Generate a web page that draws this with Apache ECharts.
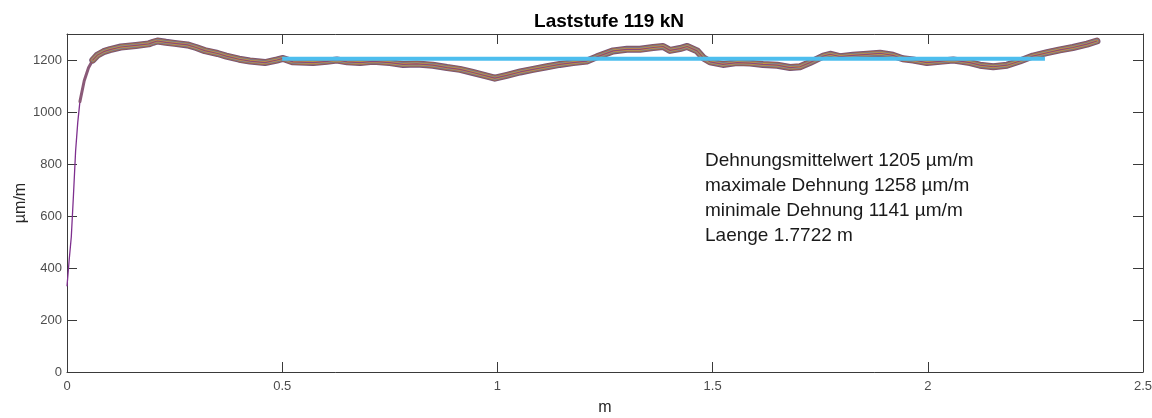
<!DOCTYPE html>
<html>
<head>
<meta charset="utf-8">
<script src="https://cdn.jsdelivr.net/npm/echarts@6/dist/echarts.min.js"></script>
<style>html,body{margin:0;padding:0;background:#fff}#c{width:1152px;height:418px}</style>
</head>
<body>
<div id="c"></div>
<script>
// Data
const positions = [0, 0.005, 0.01, 0.015, 0.02, 0.025, 0.03, 0.04, 0.05, 0.06, 0.07, 0.085, 0.1, 0.125, 0.16, 0.19, 0.2, 0.21, 0.23, 0.25, 0.28, 0.3, 0.32, 0.35, 0.37, 0.4, 0.425, 0.46, 0.488, 0.502, 0.525, 0.572, 0.604, 0.627, 0.651, 0.681, 0.711, 0.75, 0.781, 0.813, 0.85, 0.883, 0.913, 0.943, 0.976, 0.994, 1.022, 1.053, 1.083, 1.115, 1.145, 1.176, 1.208, 1.231, 1.269, 1.301, 1.331, 1.362, 1.385, 1.401, 1.424, 1.441, 1.464, 1.478, 1.494, 1.524, 1.557, 1.587, 1.617, 1.650, 1.680, 1.703, 1.726, 1.757, 1.773, 1.796, 1.826, 1.859, 1.889, 1.919, 1.942, 1.966, 1.998, 2.028, 2.059, 2.075, 2.098, 2.121, 2.152, 2.184, 2.214, 2.244, 2.277, 2.307, 2.337, 2.370, 2.393];
const strain = [330, 430, 520, 680, 850, 960, 1040, 1120, 1170, 1200, 1218, 1232, 1240, 1250, 1256, 1262, 1268, 1273, 1268, 1264, 1258, 1248, 1236, 1225, 1215, 1203, 1196, 1190, 1200, 1206, 1193, 1190, 1195, 1200, 1193, 1190, 1195, 1190, 1183, 1185, 1180, 1171, 1164, 1152, 1138, 1130, 1141, 1154, 1164, 1174, 1183, 1190, 1196, 1212, 1235, 1241, 1241, 1248, 1252, 1237, 1244, 1252, 1235, 1209, 1193, 1183, 1190, 1188, 1183, 1180, 1171, 1174, 1190, 1215, 1222, 1213, 1218, 1222, 1226, 1218, 1205, 1200, 1190, 1195, 1200, 1196, 1190, 1180, 1174, 1180, 1196, 1215, 1228, 1239, 1248, 1261, 1273];
const meanX = [0.5, 2.2722];
const meanY = [1205, 1205];
const xTicks = [0, 0.5, 1, 1.5, 2, 2.5];
const yTicks = [0, 200, 400, 600, 800, 1000, 1200];
const titleText = 'Laststufe 119 kN';
const xName = 'm';
const yName = 'µm/m';
const notes = ['Dehnungsmittelwert 1205 µm/m', 'maximale Dehnung 1258 µm/m', 'minimale Dehnung 1141 µm/m', 'Laenge 1.7722 m'];

const pts = positions.map((x, i) => [x, strain[i]]);
const midPts = pts.slice(positions.indexOf(0.03));
const bandPts = pts.slice(positions.indexOf(0.06));
const meanPts = meanX.map((x, i) => [x, meanY[i]]);

const FONT = 'Liberation Sans, Arial, sans-serif';
const axCol = '#3a3a3a';
const lblCol = '#4d4d4d';

const bandLayers = [
  {w: 7, c: '#75557a'},
  {w: 5.4, c: '#a9673f'},
  {w: 4, c: '#6f7ea0'},
  {w: 2.6, c: '#c89a3c'},
  {w: 1.2, c: '#8a4a7a'}
];

const series = [{
  type: 'line', data: pts, showSymbol: false, symbol: 'none',
  lineStyle: {color: '#7E2F8E', width: 1.3}, z: 2
}, {
  type: 'line', data: midPts, showSymbol: false, symbol: 'none',
  lineStyle: {color: '#8a5a78', width: 3, cap: 'round'}, z: 2
}];
bandLayers.forEach((l, i) => series.push({
  type: 'line', data: bandPts, showSymbol: false, symbol: 'none',
  lineStyle: {color: l.c, width: l.w, cap: 'round', join: 'round'}, z: 3 + i
}));
series.push({
  type: 'line', data: meanPts, showSymbol: false, symbol: 'none',
  lineStyle: {color: '#4DBEEE', width: 4}, z: 20
});

const chart = echarts.init(document.getElementById('c'), null, {renderer: 'canvas'});
const axisCommon = {
  axisLine: {show: true, onZero: false, lineStyle: {color: axCol, width: 1}},
  axisTick: {show: true, inside: true, length: 10, lineStyle: {color: axCol}},
  splitLine: {show: false}
};
chart.setOption({
  animation: false,
  backgroundColor: '#fff',
  title: {
    text: titleText, left: 604, top: 7, textAlign: 'center',
    textStyle: {fontFamily: FONT, fontWeight: 'bold', fontSize: 19, color: '#000'}
  },
  grid: {left: 67, right: 9, top: 34, bottom: 46, containLabel: false, outerBoundsMode: 'none'},
  xAxis: [
    Object.assign({}, axisCommon, {
      type: 'value', min: 0, max: 2.5, interval: 0.5, position: 'bottom',
      name: xName, nameLocation: 'middle', nameGap: 28, nameMoveOverlap: false,
      nameTextStyle: {fontFamily: FONT, fontSize: 16, color: '#262626'},
      axisLabel: {fontFamily: FONT, fontSize: 13, color: lblCol, margin: 8,
        formatter: v => (xTicks.indexOf(v) >= 0 ? String(v) : '')}
    }),
    Object.assign({}, axisCommon, {
      type: 'value', min: 0, max: 2.5, interval: 0.5, position: 'top',
      axisLabel: {show: false}
    })
  ],
  yAxis: [
    Object.assign({}, axisCommon, {
      type: 'value', min: 0, max: 1300, interval: 200, position: 'left',
      name: yName, nameLocation: 'middle', nameGap: 38, nameRotate: 90, nameMoveOverlap: false,
      nameTextStyle: {fontFamily: FONT, fontSize: 16, color: '#262626'},
      axisLabel: {fontFamily: FONT, fontSize: 13, color: lblCol, margin: 5,
        showMaxLabel: false,
        formatter: v => (yTicks.indexOf(v) >= 0 ? String(v) : '')}
    }),
    Object.assign({}, axisCommon, {
      type: 'value', min: 0, max: 1300, interval: 200, position: 'right',
      axisLabel: {show: false}
    })
  ],
  graphic: notes.map((t, i) => ({
    type: 'text', left: 705, top: 151 + i * 25,
    style: {text: t, fontFamily: FONT, fontSize: 19, fill: '#1a1a1a'}
  })),
  series: series
});
</script>
</body>
</html>
